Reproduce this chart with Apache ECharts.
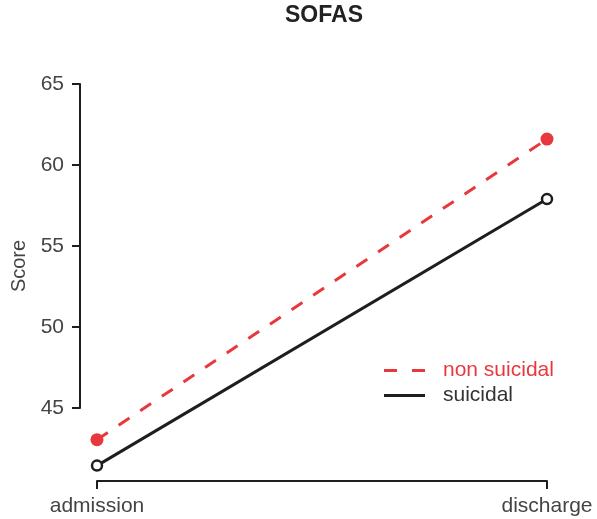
<!DOCTYPE html>
<html>
<head>
<meta charset="utf-8">
<script src="https://cdn.jsdelivr.net/npm/echarts@6/dist/echarts.min.js"></script>
<style>html,body{margin:0;padding:0;background:#fff}#c{width:597px;height:519px}</style>
</head>
<body>
<div id="c"></div>
<script>
var categories = ['admission', 'discharge'];
var nonSuicidal = [43.05, 61.6];
var suicidal = [41.45, 57.9];
var yTicksMin = 45, yTicksMax = 65, yTickStep = 5;
var yRangeMin = 40.5, yRangeMax = 65;

var RED = '#e8383d', BLACK = '#1e1e1e', TXT = '#444';
var font = 'Liberation Sans, Arial, sans-serif';
var chart = echarts.init(document.getElementById('c'), null, {renderer: 'canvas'});
chart.setOption({
  animation: false,
  backgroundColor: '#fff',
  title: {
    text: 'SOFAS', left: 324, top: 4, textAlign: 'center', padding: 0,
    textStyle: {fontFamily: font, fontSize: 23, fontWeight: 'bold', color: '#222'}
  },
  graphic: [{
    type: 'text', x: 19, y: 266, rotation: Math.PI / 2,
    style: {text: 'Score', fontFamily: font, fontSize: 20, fill: TXT, textAlign: 'center', textVerticalAlign: 'middle'}
  }],
  legend: {
    left: 384, top: 360, orient: 'vertical', itemGap: 4, itemWidth: 41, itemHeight: 3, padding: 0,
    textStyle: {fontFamily: font, fontSize: 21, padding: [0, 0, 0, 13]},
    data: [
      {name: 'non suicidal', icon: 'path://M0,0H13V3H0Z M28,0H41V3H28Z', itemStyle: {color: RED, borderWidth: 0}, textStyle: {color: RED}},
      {name: 'suicidal', icon: 'path://M0,0H41V3H0Z', itemStyle: {color: BLACK, borderWidth: 0}, textStyle: {color: '#333'}}
    ]
  },
  grid: [
    {left: 97, right: 50, top: 84, bottom: 38},
    {left: 80, width: 1, top: 84, bottom: 111}
  ],
  xAxis: [
    {
      type: 'category', gridIndex: 0, data: categories, boundaryGap: false,
      axisLine: {lineStyle: {color: BLACK, width: 2}},
      axisTick: {length: 8, lineStyle: {color: BLACK, width: 2}},
      axisLabel: {fontFamily: font, fontSize: 21, color: TXT, margin: 15},
      splitLine: {show: false}
    },
    {type: 'value', gridIndex: 1, show: false}
  ],
  yAxis: [
    {type: 'value', gridIndex: 0, min: yRangeMin, max: yRangeMax, show: false},
    {
      type: 'value', gridIndex: 1, min: yTicksMin, max: yTicksMax, interval: yTickStep,
      axisLine: {show: true, lineStyle: {color: BLACK, width: 2}},
      axisTick: {show: true, length: 8, lineStyle: {color: BLACK, width: 2}},
      axisLabel: {fontFamily: font, fontSize: 21, color: TXT, margin: 16},
      splitLine: {show: false}
    }
  ],
  series: [
    {
      name: 'non suicidal', type: 'line', xAxisIndex: 0, yAxisIndex: 0, data: nonSuicidal,
      symbol: 'circle', symbolSize: 13,
      lineStyle: {color: RED, width: 3, type: [13, 13]},
      itemStyle: {color: RED, borderWidth: 0}
    },
    {
      name: 'suicidal', type: 'line', xAxisIndex: 0, yAxisIndex: 0, data: suicidal,
      symbol: 'circle', symbolSize: 10,
      lineStyle: {color: BLACK, width: 3},
      itemStyle: {color: '#fff', borderColor: BLACK, borderWidth: 2.5}
    }
  ]
});
</script>
</body>
</html>
